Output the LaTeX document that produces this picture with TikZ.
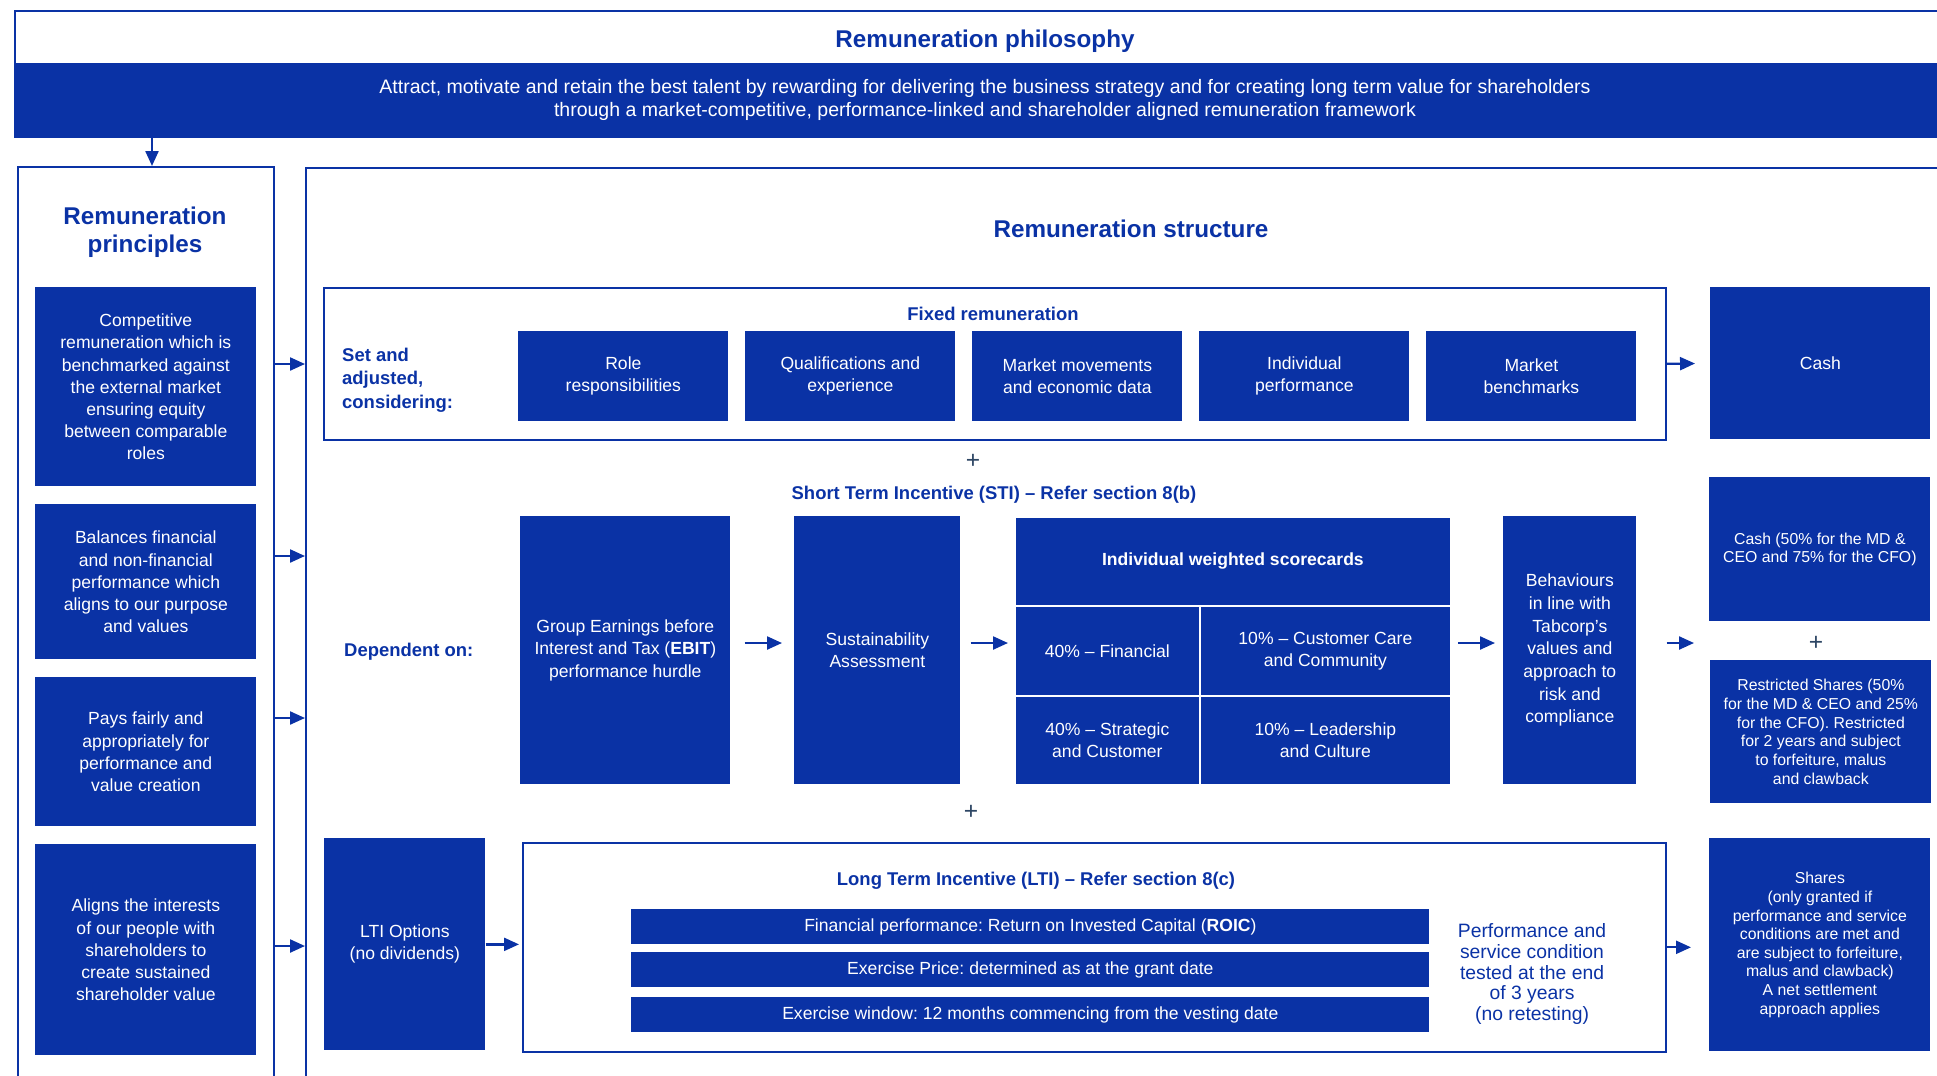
\documentclass[tikz,border=0pt]{standalone}
\usepackage{fontspec}
\setmainfont{Liberation Sans}
\usetikzlibrary{arrows.meta}
\definecolor{remblue}{RGB}{10,50,165}
\definecolor{plusgrey}{RGB}{45,70,100}
\newcommand{\fsz}[2]{\fontsize{#1}{#2}\selectfont}
\frenchspacing

\begin{document}
\begin{tikzpicture}[x=0.2mm,y=-0.2mm,
  bluebox/.style={fill=remblue,text=white,align=center,inner sep=2pt,anchor=north west,font=\fsz{10}{12.6}},
  smallbox/.style={bluebox,font=\fsz{9}{10.6}},
  cell/.style={bluebox,draw=white,line width=1pt},
  outbox/.style={draw=remblue,line width=0.9pt,anchor=north west,inner sep=0pt},
  head/.style={text=remblue,font=\bfseries\fsz{10.5}{13.5},align=center},
  bighead/.style={text=remblue,font=\bfseries\fsz{13.8}{16.2},align=center},
  arr/.style={remblue,line width=1.3pt,-{Triangle[length=3mm,width=2.6mm]}},
  plus/.style={text=plusgrey,font=\fsz{14}{14}}]

\useasboundingbox (0,0) rectangle (1937,1075);
\clip (0,0) rectangle (1937,1075);


\node[outbox,minimum width=398mm,minimum height=25.2mm] (phil) at (14,10) {};
\node[bluebox,minimum width=398mm,minimum height=14.6mm] (philband) at (14,63) {};
\node[bighead] (philtitle) at (985,41) {Remuneration philosophy};
\node[text=white,align=center,font=\fsz{11.1}{13.3}] (philtext) at (985,100)
  {Attract, motivate and retain the best talent by rewarding for delivering the business strategy and for creating long term value for shareholders\\
   through a market-competitive, performance-linked and shareholder aligned remuneration framework};


\node[outbox,minimum width=51.2mm,minimum height=188mm] (pbox) at (17,166) {};
\node[bighead] (ptitle) at (145,232) {Remuneration\\principles};

\node[bluebox,minimum width=44.2mm,minimum height=39.8mm] (p1) at (35,287)
  {Competitive\\remuneration which is\\benchmarked against\\the external market\\ensuring equity\\between comparable\\roles};
\node[bluebox,minimum width=44.2mm,minimum height=31mm] (p2) at (35,504)
  {Balances financial\\and non-financial\\performance which\\aligns to our purpose\\and values};
\node[bluebox,minimum width=44.2mm,minimum height=29.8mm] (p3) at (35,677)
  {Pays fairly and\\appropriately for\\performance and\\value creation};
\node[bluebox,minimum width=44.2mm,minimum height=42.2mm] (p4) at (35,844)
  {Aligns the interests\\of our people with\\shareholders to\\create sustained\\shareholder value};

\coordinate (pdown) at (152,136);
\draw[arr] (pdown) -- (pdown |- pbox.north);


\node[outbox,minimum width=340mm,minimum height=188mm] (sbox) at (305,167) {};
\node[bighead] (stitle) at (1131,229) {Remuneration structure};

\foreach \y [count=\i] in {364,556,718,946} {
  \coordinate (py\i) at (0,\y);
  \draw[arr] (pbox.east |- py\i) -- (sbox.west |- py\i);
}


\node[outbox,minimum width=268.4mm,minimum height=30.4mm] (fixed) at (323,287) {};
\node[head] (fixedtitle) at (993,314) {Fixed remuneration};
\node[head,anchor=west,align=left] (setadj) at (336,380) {Set and\\adjusted,\\considering:};

\node[bluebox,minimum width=42mm,minimum height=18mm] (role) at (518,331) {Role\\responsibilities};
\node[bluebox,minimum width=42mm,minimum height=18mm] (qual) at (745,331) {Qualifications and\\experience};
\node[bluebox,minimum width=42mm,minimum height=18mm] (mkt) at (972,331) {Market movements\\and economic data};
\node[bluebox,minimum width=42mm,minimum height=18mm] (indiv) at (1199,331) {Individual\\performance};
\node[bluebox,minimum width=42mm,minimum height=18mm] (bench) at (1426,331) {Market\\benchmarks};

\node[bluebox,minimum width=44mm,minimum height=30.4mm] (cash) at (1710,287) {Cash};
\draw[arr,shorten >=3mm] (fixed.east) -- (cash.west);

\node[plus] (plus1) at (973,461) {+};


\node[head] (stititle) at (994,495) {Short Term Incentive (STI) -- Refer section 8(b)};
\node[head,anchor=west] (dep) at (338,652) {Dependent on:};

\node[bluebox,minimum width=42mm,minimum height=53.6mm] (ebit) at (520,516)
  {Group Earnings before\\Interest and Tax (\textbf{EBIT})\\performance hurdle};
\node[bluebox,minimum width=33.2mm,minimum height=53.6mm] (sust) at (794,516)
  {Sustainability\\Assessment};

\node[cell,font=\bfseries\fsz{10}{12.6},minimum width=87.2mm,minimum height=17.8mm] (score) at (1014,516)
  {Individual weighted scorecards};
\node[cell,minimum width=37mm,minimum height=18mm] (fin) at (1014,605) {40\% -- Financial};
\node[cell,minimum width=50.2mm,minimum height=18mm] (cust) at (1199,605) {10\% -- Customer Care\\and Community};
\node[cell,minimum width=37mm,minimum height=17.8mm] (strat) at (1014,695) {40\% -- Strategic\\and Customer};
\node[cell,minimum width=50.2mm,minimum height=17.8mm] (lead) at (1199,695) {10\% -- Leadership\\and Culture};

\node[bluebox,minimum width=26.6mm,minimum height=53.6mm,font=\fsz{10}{12.9}] (behav) at (1503,516)
  {Behaviours\\in line with\\Tabcorp's\\values and\\approach to\\risk and\\compliance};

\node[smallbox,minimum width=44.2mm,minimum height=28.8mm] (stcash) at (1709,477)
  {Cash (50\% for the MD \&\\CEO and 75\% for the CFO)};
\node[plus] (stplus) at (1816,643) {+};
\node[smallbox,minimum width=44.2mm,minimum height=28.6mm] (rshares) at (1710,660)
  {Restricted Shares (50\%\\for the MD \& CEO and 25\%\\for the CFO). Restricted\\for 2 years and subject\\to forfeiture, malus\\and clawback};

\coordinate (sty) at (0,643);
\draw[arr,shorten <=2.8mm,shorten >=2.4mm] (ebit.east |- sty) -- (sust.west |- sty);
\draw[arr,shorten <=2mm,shorten >=1.2mm] (sust.east |- sty) -- (fin.west |- sty);
\draw[arr,shorten <=1.2mm,shorten >=1.6mm] (cust.east |- sty) -- (behav.west |- sty);
\draw[arr,shorten >=3mm] (fixed.east |- sty) -- (stcash.west |- sty);

\node[plus] (plus2) at (971,812) {+};


\node[bluebox,minimum width=32.2mm,minimum height=42.4mm] (lopt) at (324,838) {LTI Options\\(no dividends)};
\node[outbox,minimum width=228.6mm,minimum height=41.8mm] (lbox) at (522,842) {};
\node[head] (ltititle) at (1036,881) {Long Term Incentive (LTI) -- Refer section 8(c)};

\node[bluebox,minimum width=159.6mm,minimum height=7mm,inner sep=0pt] (bar1) at (631,909)
  {Financial performance: Return on Invested Capital (\textbf{ROIC})};
\node[bluebox,minimum width=159.6mm,minimum height=7mm,inner sep=0pt] (bar2) at (631,952)
  {Exercise Price: determined as at the grant date};
\node[bluebox,minimum width=159.6mm,minimum height=7mm,inner sep=0pt] (bar3) at (631,997)
  {Exercise window: 12 months commencing from the vesting date};

\node[text=remblue,align=center,font=\fsz{11}{11.9}] (perf) at (1532,974)
  {Performance and\\service condition\\tested at the end\\of 3 years\\(no retesting)};

\node[smallbox,minimum width=44.2mm,minimum height=42.6mm] (shares) at (1709,838)
  {Shares\\(only granted if\\performance and service\\conditions are met and\\are subject to forfeiture,\\malus and clawback)\\A net settlement\\approach applies};

\draw[arr,shorten >=0.6mm] (lopt.east) -- (lbox.west |- lopt.east);
\draw[arr,shorten >=3.6mm] (lbox.east) -- (shares.west |- lbox.east);

\end{tikzpicture}
\end{document}
